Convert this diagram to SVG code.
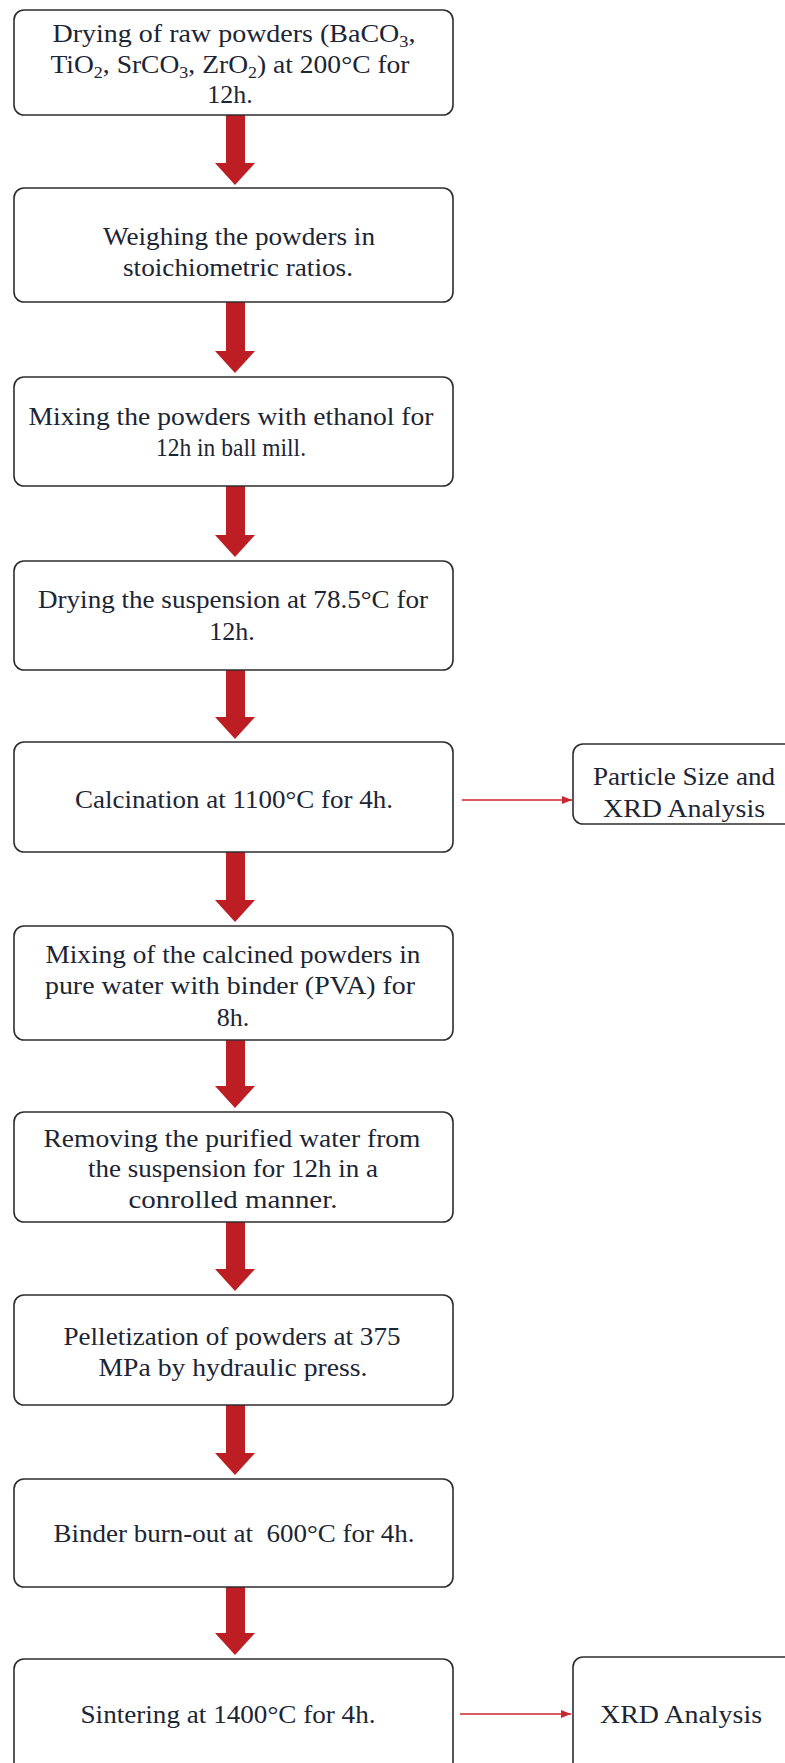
<svg xmlns="http://www.w3.org/2000/svg" width="785" height="1763" viewBox="0 0 785 1763">
<style>
.box{fill:#fff;stroke:#2e2e2e;stroke-width:1.6}
.t{font-family:"Liberation Serif","Times New Roman",serif;font-size:26px;fill:#1c2533;text-anchor:middle}
.sub{font-size:17px}
.big{fill:#bd1e24}
.thin{stroke:#c8282d;stroke-width:1.3;fill:none}
</style>
<defs>
<marker id="ah" markerWidth="10" markerHeight="8" refX="10" refY="4" orient="auto" markerUnits="userSpaceOnUse">
<path d="M0,0 L10,4 L0,8 Z" fill="#c8282d"/>
</marker>
</defs>
<rect width="785" height="1763" fill="#fff"/>
<g id="connectors">
<path class="big" d="M226,115 h19 v48 h10 l-20,22 l-20,-22 h11 Z"/>
<path class="big" d="M226,302 h19 v49 h10 l-20,22 l-20,-22 h11 Z"/>
<path class="big" d="M226,486 h19 v49 h10 l-20,22 l-20,-22 h11 Z"/>
<path class="big" d="M226,670 h19 v47 h10 l-20,22 l-20,-22 h11 Z"/>
<path class="big" d="M226,852 h19 v48 h10 l-20,22 l-20,-22 h11 Z"/>
<path class="big" d="M226,1040 h19 v46 h10 l-20,22 l-20,-22 h11 Z"/>
<path class="big" d="M226,1222 h19 v47 h10 l-20,22 l-20,-22 h11 Z"/>
<path class="big" d="M226,1405 h19 v48 h10 l-20,22 l-20,-22 h11 Z"/>
<path class="big" d="M226,1587 h19 v46 h10 l-20,22 l-20,-22 h11 Z"/>
<line class="thin" x1="462" y1="800" x2="572" y2="800" marker-end="url(#ah)"/>
<line class="thin" x1="460" y1="1714" x2="571" y2="1714" marker-end="url(#ah)"/>
</g>
<g id="n1">
<rect class="box" x="14" y="10" width="439" height="105" rx="10"/>
<text class="t" x="234" y="42" textLength="363" lengthAdjust="spacingAndGlyphs">Drying of raw powders (BaCO<tspan class="sub" dy="5">3</tspan><tspan dy="-5">,</tspan></text>
<text class="t" x="230" y="73" textLength="359" lengthAdjust="spacingAndGlyphs">TiO<tspan class="sub" dy="5">2</tspan><tspan dy="-5">, SrCO</tspan><tspan class="sub" dy="5">3</tspan><tspan dy="-5">, ZrO</tspan><tspan class="sub" dy="5">2</tspan><tspan dy="-5">) at 200°C for</tspan></text>
<text class="t" x="230" y="103">12h.</text>
</g>
<g id="n2">
<rect class="box" x="14" y="188" width="439" height="114" rx="10"/>
<text class="t" x="239" y="245" textLength="272" lengthAdjust="spacingAndGlyphs">Weighing the powders in</text>
<text class="t" x="238" y="276" textLength="230" lengthAdjust="spacingAndGlyphs">stoichiometric ratios.</text>
</g>
<g id="n3">
<rect class="box" x="14" y="377" width="439" height="109" rx="10"/>
<text class="t" x="231" y="425" textLength="405" lengthAdjust="spacingAndGlyphs">Mixing the powders with ethanol for</text>
<text class="t" x="231" y="456" textLength="150" lengthAdjust="spacingAndGlyphs">12h in ball mill.</text>
</g>
<g id="n4">
<rect class="box" x="14" y="561" width="439" height="109" rx="10"/>
<text class="t" x="233" y="608" textLength="390" lengthAdjust="spacingAndGlyphs">Drying the suspension at 78.5°C for</text>
<text class="t" x="232" y="640">12h.</text>
</g>
<g id="n5">
<rect class="box" x="14" y="742" width="439" height="110" rx="10"/>
<text class="t" x="234" y="808" textLength="318" lengthAdjust="spacingAndGlyphs">Calcination at 1100°C for 4h.</text>
</g>
<g id="n6">
<rect class="box" x="14" y="926" width="439" height="114" rx="10"/>
<text class="t" x="233" y="963" textLength="375" lengthAdjust="spacingAndGlyphs">Mixing of the calcined powders in</text>
<text class="t" x="230" y="994" textLength="370" lengthAdjust="spacingAndGlyphs">pure water with binder (PVA) for</text>
<text class="t" x="233" y="1026">8h.</text>
</g>
<g id="n7">
<rect class="box" x="14" y="1112" width="439" height="110" rx="10"/>
<text class="t" x="232" y="1147" textLength="377" lengthAdjust="spacingAndGlyphs">Removing the purified water from</text>
<text class="t" x="233" y="1177" textLength="290" lengthAdjust="spacingAndGlyphs">the suspension for 12h in a</text>
<text class="t" x="233" y="1208" textLength="209" lengthAdjust="spacingAndGlyphs">conrolled manner.</text>
</g>
<g id="n8">
<rect class="box" x="14" y="1295" width="439" height="110" rx="10"/>
<text class="t" x="232" y="1345" textLength="337" lengthAdjust="spacingAndGlyphs">Pelletization of powders at 375</text>
<text class="t" x="233" y="1376" textLength="269" lengthAdjust="spacingAndGlyphs">MPa by hydraulic press.</text>
</g>
<g id="n9">
<rect class="box" x="14" y="1479" width="439" height="108" rx="10"/>
<text class="t" x="234" y="1542" textLength="361" lengthAdjust="spacingAndGlyphs">Binder burn-out at&#160; 600°C for 4h.</text>
</g>
<g id="n10">
<rect class="box" x="14" y="1659" width="439" height="130" rx="10"/>
<text class="t" x="228" y="1723" textLength="295" lengthAdjust="spacingAndGlyphs">Sintering at 1400°C for 4h.</text>
</g>
<g id="nA">
<rect class="box" x="573" y="744" width="240" height="80" rx="10"/>
<text class="t" x="684" y="785" textLength="182" lengthAdjust="spacingAndGlyphs">Particle Size and</text>
<text class="t" x="684" y="817" textLength="162" lengthAdjust="spacingAndGlyphs">XRD Analysis</text>
</g>
<g id="nB">
<rect class="box" x="573" y="1657" width="240" height="130" rx="10"/>
<text class="t" x="681" y="1723" textLength="162" lengthAdjust="spacingAndGlyphs">XRD Analysis</text>
</g>
</svg>
